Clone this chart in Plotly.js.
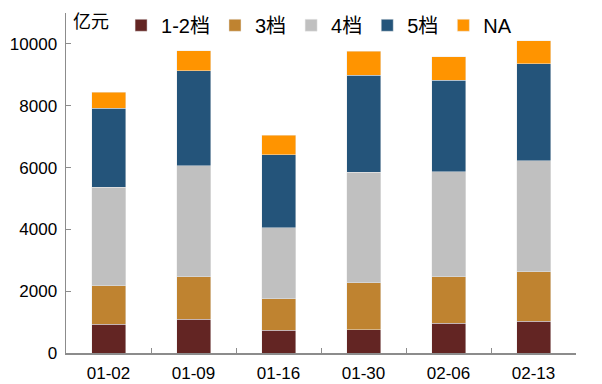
<!DOCTYPE html>
<html>
<head>
<meta charset="utf-8">
<script src="https://cdn.plot.ly/plotly-3.0.1.min.js"></script>
<style>html,body{margin:0;padding:0;background:#fff;}#chart{width:602px;height:384px;}</style>
</head>
<body>
<div id="chart"></div>
<script>
const categories = ["01-02", "01-09", "01-16", "01-30", "02-06", "02-13"];
const seriesNames = ["1-2档", "3档", "4档", "5档", "NA"];
const tier12 = [930, 1090, 730, 745, 960, 1035];
const tier3 = [1250, 1380, 1030, 1520, 1510, 1595];
const tier4 = [3190, 3590, 2290, 3590, 3400, 3590];
const tier5 = [2545, 3075, 2370, 3125, 2955, 3140];
const tierNA = [520, 640, 625, 775, 755, 745];
const yTicks = [0, 2000, 4000, 6000, 8000, 10000];
const unitLabel = "亿元";

const colors = ["#632523", "#BF8330", "#C0C0C0", "#24547A", "#FF9400"];
const values = [tier12, tier3, tier4, tier5, tierNA];
const FONT = "Liberation Sans, Arial, Noto Sans CJK SC, sans-serif";

const traces = values.map((v, i) => ({
  type: "bar",
  name: seriesNames[i],
  x: categories,
  y: v,
  width: 0.4,
  marker: { color: colors[i], line: { color: "rgba(235,235,235,0.8)", width: 0.6 } },
  hoverinfo: "x+y+name"
}));

const layout = {
  width: 602,
  height: 384,
  barmode: "stack",
  paper_bgcolor: "#fff",
  plot_bgcolor: "#fff",
  margin: { l: 66, r: 26, t: 13, b: 31, autoexpand: false },
  font: { family: FONT, size: 17, color: "#000" },
  showlegend: true,
  legend: {
    orientation: "h",
    xref: "paper",
    x: 0.108, xanchor: "left",
    yref: "container",
    y: 0.985, yanchor: "top",
    font: { family: FONT, size: 20, color: "#000" },
    bgcolor: "rgba(0,0,0,0)",
    traceorder: "normal",
    itemwidth: 30
  },
  xaxis: {
    type: "category",
    tickson: "boundaries",
    ticks: "inside",
    ticklen: 5,
    tickcolor: "#8c8c8c",
    showline: true,
    linecolor: "#8c8c8c",
    linewidth: 1.5,
    showgrid: false,
    automargin: false,
    ticklabelstandoff: 4,
    tickfont: { family: FONT, size: 17, color: "#000" },
    fixedrange: true
  },
  yaxis: {
    range: [0, 11000],
    tickvals: yTicks,
    ticktext: yTicks.map(String),
    ticks: "inside",
    ticklen: 5,
    tickcolor: "#8c8c8c",
    showline: true,
    linecolor: "#8c8c8c",
    linewidth: 1.5,
    showgrid: false,
    zeroline: false,
    automargin: false,
    ticklabelstandoff: 4,
    tickfont: { family: FONT, size: 17, color: "#000" },
    fixedrange: true
  },
  annotations: [{
    text: unitLabel,
    xref: "paper", yref: "paper",
    x: 0.01, y: 1.0,
    xanchor: "left", yanchor: "top",
    yshift: 8,
    showarrow: false,
    font: { family: "Noto Sans CJK SC, sans-serif", size: 18, color: "#000" }
  }]
};

Plotly.newPlot("chart", traces, layout, { displayModeBar: false, staticPlot: true });
</script>
</body>
</html>
